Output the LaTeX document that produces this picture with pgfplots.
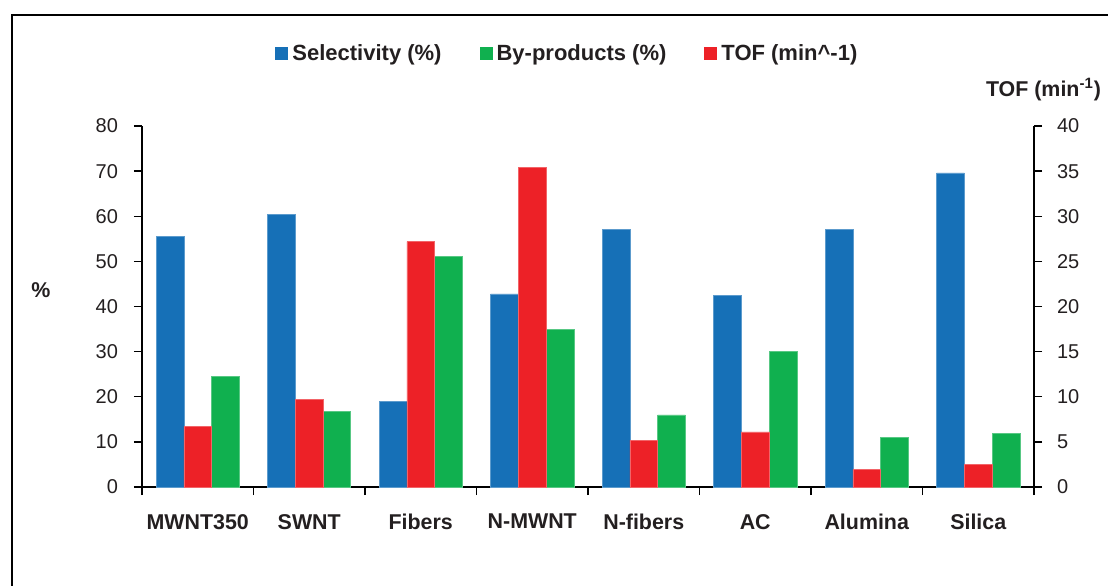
\documentclass[border=0pt]{standalone}
\usepackage{pgfplots}
\pgfplotsset{compat=1.18}
\usepackage{fontspec}
\setmainfont{Liberation Sans}
\definecolor{cBlue}{RGB}{22,112,183}
\definecolor{cRed}{RGB}{237,33,39}
\definecolor{cGreen}{RGB}{16,176,79}
\definecolor{cText}{RGB}{35,31,32}
\pgfplotsset{
  commonax/.style={
    scale only axis, width=446pt, height=180.5pt,
    xmin=-0.5, xmax=7.5,
    tick align=outside, major tick length=4pt, minor tick length=4pt,
    axis line style={line width=0.7pt, black},
    every tick/.style={line width=0.7pt, black},
    /pgf/number format/assume math mode=true,
    ticklabel style={font=\fontsize{10}{12}\selectfont, text=cText},
    clip=false,
  },
  barimg/.style={legend image code/.code={\path[##1,draw=none] (0pt,-3.25pt) rectangle (6.5pt,3.25pt);}},
}
\begin{document}
\begin{tikzpicture}
\useasboundingbox (-71pt,-49pt) rectangle (483pt,243.5pt);
\begin{axis}[commonax,
  ymin=0, ymax=80,
  axis x line*=bottom, axis y line*=left,
  xtick={0,...,7},
  xticklabels={MWNT350,SWNT,Fibers,N-MWNT,N-fibers,AC,Alumina,Silica},
  major x tick style={draw=none},
  minor xtick={-0.5,0.5,...,7.5},
  xticklabel style={font=\bfseries\fontsize{10.7}{12}\selectfont, text=cText, yshift=-6pt},
  yticklabel style={xshift=-4.5pt},
  ytick={0,10,...,80},
]
\addplot[ybar, bar width=13.85pt, bar shift=-13.85pt, fill=cBlue, draw=cBlue!70!white, line width=0.3pt]
  coordinates {(0,55.6) (1,60.5) (2,18.9) (3,42.8) (4,57.1) (5,42.4) (6,57.1) (7,69.6)};
\addplot[ybar, bar width=13.85pt, bar shift=13.85pt, fill=cGreen, draw=cGreen!70!white, line width=0.3pt]
  coordinates {(0,24.6) (1,16.7) (2,51.1) (3,34.9) (4,16.0) (5,30.0) (6,11.0) (7,11.8)};
\end{axis}
\begin{axis}[commonax,
  ymin=0, ymax=40,
  axis x line=none, axis y line*=right,
  ytick={0,5,...,40},
  yticklabel style={xshift=4pt},
  barimg,
  legend style={at={(0.478,1.2)}, anchor=center, draw=none, fill=none,
    legend columns=3, font=\bfseries\fontsize{11}{13}\selectfont, text=cText,
    /tikz/every even column/.append style={column sep=17pt}},
]
\addlegendimage{barimg, fill=cBlue}
\addlegendentry{Selectivity (\%)}
\addlegendimage{barimg, fill=cGreen}
\addlegendentry{By-products (\%)}
\addplot[ybar, bar width=13.85pt, bar shift=0pt, fill=cRed, draw=cRed!70!white, line width=0.3pt]
  coordinates {(0,6.7) (1,9.7) (2,27.2) (3,35.4) (4,5.2) (5,6.1) (6,1.95) (7,2.5)};
\addlegendentry{TOF (min\textasciicircum-1)}
\end{axis}
\node[font=\bfseries\fontsize{10.7}{12}\selectfont, text=cText] at (-50.5pt,98.5pt) {\%};
\node[font=\bfseries\fontsize{10.7}{12}\selectfont, text=cText] at (450.75pt,198.5pt) {TOF (min\textsuperscript{-1})};
\draw[line width=0.6pt, black] (-65pt,-60pt) -- (-65pt,236pt) -- (500pt,236pt);
\end{tikzpicture}
\end{document}
